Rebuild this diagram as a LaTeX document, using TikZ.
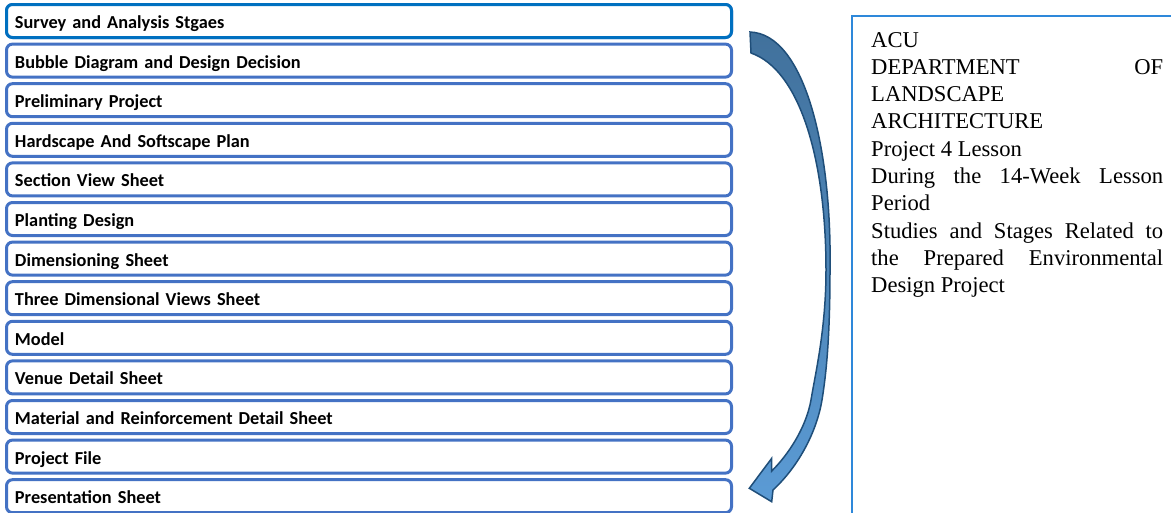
\documentclass[tikz,border=0pt]{standalone}
\usepackage{fontspec}
\setmainfont{Liberation Serif}
\newfontfamily\boxfont{Carlito}
\definecolor{boxblue}{HTML}{4472C4}
\definecolor{firstblue}{HTML}{0070C0}
\definecolor{infoblue}{HTML}{2E88DA}
\definecolor{arrowline}{HTML}{1F4E79}
\definecolor{arrowtop}{HTML}{41719C}
\definecolor{arrowbot}{HTML}{5B9BD5}
\begin{document}
\begin{tikzpicture}[x=1pt,y=-1pt,
  stagebox/.style={draw=boxblue, line width=3pt, rounded corners=6pt, fill=white,
    minimum width=725pt, minimum height=33pt, text width=708pt, align=left,
    inner xsep=8.5pt, inner ysep=0pt, text height=16.5pt, text depth=1.4pt,
    font=\boxfont\bfseries\fontsize{18.3}{20}\selectfont},
  infoline/.style={anchor=base west, inner sep=0pt, font=\fontsize{22.6}{27.3}\selectfont},
  infobox/.style={draw=infoblue, line width=2pt, anchor=north west, minimum width=400pt, minimum height=600pt, inner sep=0pt},
  bigarrow/.style={draw=arrowline, line width=1.5pt, top color=arrowtop, bottom color=arrowbot, line join=miter}]
\useasboundingbox (0,0) rectangle (1171,512);
\clip (0,0) rectangle (1171,512);
\foreach \t [count=\i] in {Survey and Analysis Stgaes, Bubble Diagram and Design Decision, Preliminary Project, Hardscape And Softscape Plan, Section View Sheet, Planting Design, Dimensioning Sheet, Three Dimensional Views Sheet, Model, Venue Detail Sheet, Material and Reinforcement Detail Sheet, Project File, Presentation Sheet}{
  \node[stagebox] (s\i) at (369, {21+39.6*(\i-1)}) {\t};
}
\node[stagebox, draw=firstblue] (s1) at (369, 21) {Survey and Analysis Stgaes};
% curved arrow
\path[bigarrow] (750,32) .. controls (805,34) and (832,150) .. (830,270)
  .. controls (830,340) and (826,375) .. (822,400)
  .. controls (817,430) and (800,465) .. (773,490)
  -- (771.7,501.7) -- (749.3,488.3) -- (771.7,458.3) -- (771.7,471)
  .. controls (788,455) and (806,428) .. (811,400)
  .. controls (815,375) and (826,330) .. (826,270)
  .. controls (826,160) and (800,70) .. (751,53) -- cycle;
% info box
\node[infobox] (info) at (851,15) {};
\node[infoline] (l1) at (871,47) {ACU};
\node[infoline] (l2) at (871,74.3) {\makebox[292pt][s]{DEPARTMENT OF}};
\node[infoline] (l3) at (871,101.6) {LANDSCAPE};
\node[infoline] (l4) at (871,128.9) {ARCHITECTURE};
\node[infoline] (l5) at (871,156.2) {Project 4 Lesson};
\node[infoline] (l6) at (871,183.5) {\makebox[292pt][s]{During the 14-Week Lesson}};
\node[infoline] (l7) at (871,210.8) {Period};
\node[infoline] (l8) at (871,238.1) {\makebox[292pt][s]{Studies and Stages Related to}};
\node[infoline] (l9) at (871,265.4) {\makebox[292pt][s]{the Prepared Environmental}};
\node[infoline] (l10) at (871,292.7) {Design Project};
\end{tikzpicture}
\end{document}
